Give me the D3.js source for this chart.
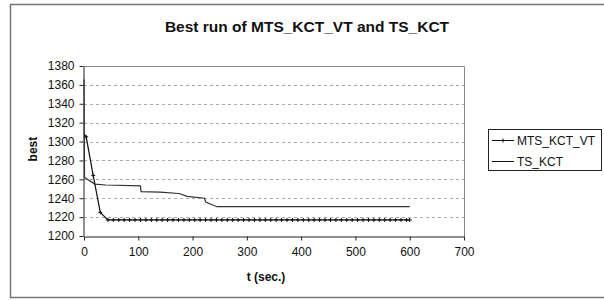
<!DOCTYPE html>
<html>
<head>
<meta charset="utf-8">
<script src="https://cdn.jsdelivr.net/npm/d3@7"></script>
<style>
  body { margin: 0; background: #fff; }
  text { font-family: "Liberation Sans", Arial, sans-serif; fill: #111; }
</style>
</head>
<body>
<div id="chart"></div>
<script>
// data
var mtsTimes = [0, 4, 17, 30, 44, 54, 64, 74, 84, 94, 104, 114, 124, 134, 144, 154, 164, 174, 184, 194,
  204, 214, 224, 234, 244, 254, 264, 274, 284, 294, 304, 314, 324, 334, 344, 354, 364, 374, 384, 394,
  404, 414, 424, 434, 444, 454, 464, 474, 484, 494, 504, 514, 524, 534, 544, 554, 564, 574, 584, 594, 600];
var mtsValues = [1308, 1305, 1264, 1225, 1217, 1217, 1217, 1217, 1217, 1217, 1217, 1217, 1217, 1217, 1217, 1217, 1217, 1217, 1217, 1217,
  1217, 1217, 1217, 1217, 1217, 1217, 1217, 1217, 1217, 1217, 1217, 1217, 1217, 1217, 1217, 1217, 1217, 1217, 1217, 1217,
  1217, 1217, 1217, 1217, 1217, 1217, 1217, 1217, 1217, 1217, 1217, 1217, 1217, 1217, 1217, 1217, 1217, 1217, 1217, 1217, 1217];

var tsTimes = [0, 1, 20, 40, 104, 105, 140, 175, 190, 222, 224, 245, 600];
var tsValues = [1366, 1262, 1255, 1254, 1253, 1247, 1246.5, 1245, 1242, 1240, 1236, 1231, 1231];

var xTicks = [0, 100, 200, 300, 400, 500, 600, 700];
var yTicks = [1200, 1220, 1240, 1260, 1280, 1300, 1320, 1340, 1360, 1380];
var seriesNames = ["MTS_KCT_VT", "TS_KCT"];

var svgWidth = 604;
var svgHeight = 300;

var plot = { left: 84, right: 464, top: 66, bottom: 236 };

var svg = d3.select("#chart")
  .append("svg")
  .attr("width", svgWidth)
  .attr("height", svgHeight);

// outer chart border
svg.append("rect")
  .attr("x", 10.5)
  .attr("y", 4.5)
  .attr("width", 600)
  .attr("height", 293)
  .attr("fill", "none")
  .attr("stroke", "#777")
  .attr("stroke-width", 1.5);

var x = d3.scaleLinear().domain([0, 700]).range([plot.left, plot.right]);
var y = d3.scaleLinear().domain([1200, 1380]).range([plot.bottom, plot.top]);

// title
svg.append("text")
  .attr("x", 307)
  .attr("y", 32)
  .attr("text-anchor", "middle")
  .attr("font-size", 15.5)
  .attr("font-weight", "bold")
  .text("Best run of MTS_KCT_VT and TS_KCT");

// gridlines
svg.append("g")
  .selectAll("line")
  .data(yTicks.filter(d => d > 1200 && d < 1380))
  .enter()
  .append("line")
  .attr("x1", plot.left)
  .attr("x2", plot.right)
  .attr("y1", d => Math.round(y(d)) + 0.5)
  .attr("y2", d => Math.round(y(d)) + 0.5)
  .attr("stroke", "#aaa")
  .attr("stroke-dasharray", "3,3");

// plot area border (top and right)
svg.append("path")
  .attr("d", `M${plot.left},${plot.top + 0.5}H${plot.right + 0.5}V${plot.bottom}`)
  .attr("fill", "none")
  .attr("stroke", "#888");

// axes
var xAxis = svg.append("g")
  .attr("transform", `translate(0, ${plot.bottom + 0.5})`)
  .call(d3.axisBottom(x).tickValues(xTicks).tickFormat(d3.format("d"))
    .tickSize(4).tickPadding(5).tickSizeOuter(0));

var yAxis = svg.append("g")
  .attr("transform", `translate(${plot.left - 0.5}, 0)`)
  .call(d3.axisLeft(y).tickValues(yTicks).tickFormat(d3.format("d"))
    .tickSize(4).tickPadding(5).tickSizeOuter(0));

[xAxis, yAxis].forEach(function(ax) {
  ax.select(".domain").attr("stroke", "#222");
  ax.selectAll(".tick line").attr("stroke", "#222");
  ax.selectAll("text")
    .attr("font-size", 12)
    .attr("font-family", "Liberation Sans, Arial, sans-serif")
    .attr("fill", "#222");
});
xAxis.selectAll("text").attr("dy", "0.85em");

// axis titles
svg.append("text")
  .attr("x", x(350) - 8)
  .attr("y", 281)
  .attr("text-anchor", "middle")
  .attr("font-size", 12)
  .attr("font-weight", "bold")
  .text("t (sec.)");

svg.append("text")
  .attr("transform", `translate(37, ${y(1292)}) rotate(-90)`)
  .attr("text-anchor", "middle")
  .attr("font-size", 12)
  .attr("font-weight", "bold")
  .text("best");

// lines
var line = d3.line()
  .x(d => x(d[0]))
  .y(d => y(d[1]));

var tsData = tsTimes.map((t, i) => [t, tsValues[i]]);
var mtsData = mtsTimes.map((t, i) => [t, mtsValues[i]]);

svg.append("path")
  .datum(tsData)
  .attr("d", line)
  .attr("fill", "none")
  .attr("stroke", "#333")
  .attr("stroke-width", 1.2);

svg.append("path")
  .datum(mtsData)
  .attr("d", line)
  .attr("fill", "none")
  .attr("stroke", "#111")
  .attr("stroke-width", 1.2);

// plus markers for MTS_KCT_VT
var plus = "M-2,0H2M0,-2V2";
svg.append("g")
  .selectAll("path")
  .data(mtsData.slice(1))
  .enter()
  .append("path")
  .attr("transform", d => `translate(${x(d[0])}, ${y(d[1])})`)
  .attr("d", plus)
  .attr("stroke", "#111")
  .attr("stroke-width", 1);

// legend
var legend = svg.append("g");
legend.append("rect")
  .attr("x", 488.5)
  .attr("y", 129.5)
  .attr("width", 113)
  .attr("height", 41)
  .attr("fill", "#fff")
  .attr("stroke", "#222");

legend.selectAll("line")
  .data(seriesNames)
  .enter()
  .append("line")
  .attr("x1", 492)
  .attr("x2", 514)
  .attr("y1", (d, i) => 140.5 + i * 21)
  .attr("y2", (d, i) => 140.5 + i * 21)
  .attr("stroke", "#111");

legend.append("path")
  .attr("transform", "translate(503, 140.5)")
  .attr("d", plus)
  .attr("stroke", "#111");

legend.selectAll("text")
  .data(seriesNames)
  .enter()
  .append("text")
  .attr("x", 517)
  .attr("y", (d, i) => 144.5 + i * 21)
  .attr("font-size", 12)
  .text(d => d);
</script>
</body>
</html>
